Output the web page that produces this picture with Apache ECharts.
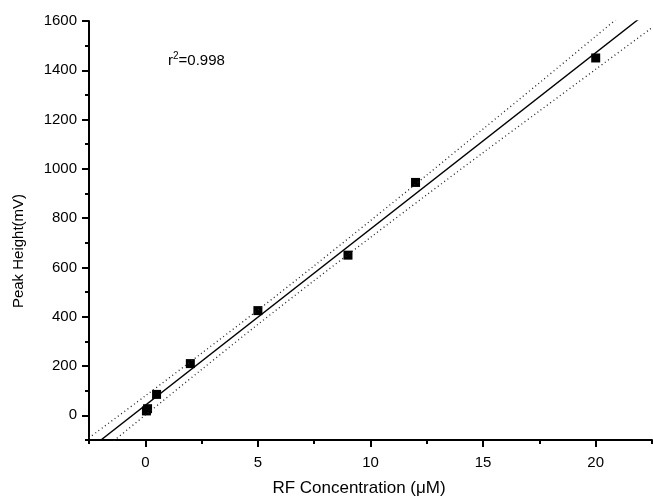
<!DOCTYPE html>
<html>
<head>
<meta charset="utf-8">
<script src="https://cdn.jsdelivr.net/npm/echarts@6/dist/echarts.min.js"></script>
<style>html,body{margin:0;padding:0;background:#fff}#c{width:653px;height:501px}</style>
</head>
<body>
<div id="c"></div>
<script>
// Measured data points (RF concentration µM, peak height mV)
const concX = [0.05, 0.1, 0.5, 2, 5, 9, 12, 20];
const peakY = [18, 27, 85, 210, 425, 650, 945, 1450];
// Linear fit line endpoints
const fitX = [-2.5, 22.5];
const fitY = [-138, 1650];
// Dotted confidence bands
const bandX = [-2.5, 0, 2.5, 5, 7.5, 10, 12.5, 15, 17.5, 20, 22.5];
const upperY = [-91, 79, 252, 427, 607, 790, 975, 1162, 1349, 1538, 1727];
const lowerY = [-185, 1, 186, 369, 547, 722, 895, 1066, 1235, 1404, 1573];
// Axis ticks
const xMajor = [0, 5, 10, 15, 20];
const xMinor = [-2.5, 2.5, 7.5, 12.5, 17.5, 22.5];
const yMajor = [0, 200, 400, 600, 800, 1000, 1200, 1400, 1600];
const yMinor = [-100, 100, 300, 500, 700, 900, 1100, 1300, 1500];

const font = 'Liberation Sans, Arial, Helvetica, sans-serif';
const zip = (a, b) => a.map((v, i) => [v, b[i]]);

const chart = echarts.init(document.getElementById('c'), null, {renderer: 'canvas'});
const axisLineStyle = {color: '#000', width: 2};
const plain = v => String(v);
chart.setOption({
  animation: false,
  backgroundColor: '#fff',
  grid: {left: 89, right: 1, top: 21, bottom: 61},
  xAxis: [
    {type: 'value', min: -2.5, max: 22.5, position: 'bottom',
     axisLine: {show: true, onZero: false, lineStyle: axisLineStyle},
     axisTick: {show: true, customValues: xMajor, length: 7, lineStyle: {color: '#000', width: 2}},
     axisLabel: {customValues: xMajor, formatter: plain, color: '#000', fontSize: 15, fontFamily: font, margin: 15},
     splitLine: {show: false}},
    {type: 'value', min: -2.5, max: 22.5, position: 'bottom',
     axisLine: {show: false, onZero: false},
     axisTick: {show: true, customValues: xMinor, length: 4, lineStyle: {color: '#000', width: 2}},
     axisLabel: {show: false},
     splitLine: {show: false}}
  ],
  yAxis: [
    {type: 'value', min: -100, max: 1600, position: 'left',
     axisLine: {show: true, onZero: false, lineStyle: axisLineStyle},
     axisTick: {show: true, customValues: yMajor, length: 7, lineStyle: {color: '#000', width: 2}},
     axisLabel: {customValues: yMajor, formatter: plain, color: '#000', fontSize: 15, fontFamily: font, margin: 12},
     splitLine: {show: false}},
    {type: 'value', min: -100, max: 1600, position: 'left',
     axisLine: {show: false, onZero: false},
     axisTick: {show: true, customValues: yMinor, length: 4, lineStyle: {color: '#000', width: 2}},
     axisLabel: {show: false},
     splitLine: {show: false}}
  ],
  graphic: [
    {type: 'text', x: 359, y: 488, style: {text: 'RF Concentration (μM)', font: '17px ' + font, fill: '#000', align: 'center', verticalAlign: 'middle'}},
    {type: 'text', x: 19, y: 251, rotation: Math.PI / 2, style: {text: 'Peak Height(mV)', font: '15px ' + font, fill: '#000', align: 'center', verticalAlign: 'middle'}},
    {type: 'text', x: 168, y: 61, style: {
      text: '{a|r}{s|2}{a|=0.998}', verticalAlign: 'middle', align: 'left',
      rich: {
        a: {fontSize: 15, fontFamily: font, color: '#000'},
        s: {fontSize: 10, fontFamily: font, color: '#000', verticalAlign: 'top', padding: [0, 0, 9, 0]}
      }}}
  ],
  series: [
    {type: 'line', data: zip(bandX, upperY), symbol: 'none', smooth: 0.3, clip: true,
     lineStyle: {color: '#222', width: 1.3, type: [1, 3]}},
    {type: 'line', data: zip(bandX, lowerY), symbol: 'none', smooth: 0.3, clip: true,
     lineStyle: {color: '#222', width: 1.3, type: [1, 3]}},
    {type: 'line', data: zip(fitX, fitY), symbol: 'none', clip: true,
     lineStyle: {color: '#000', width: 1.4}},
    {type: 'scatter', data: zip(concX, peakY), symbol: 'rect', symbolSize: 9,
     itemStyle: {color: '#000', opacity: 1}}
  ]
});
</script>
</body>
</html>
